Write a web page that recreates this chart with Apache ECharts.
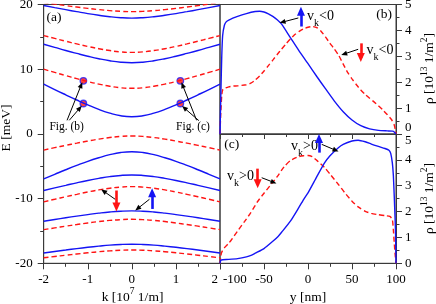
<!DOCTYPE html>
<html><head><meta charset="utf-8">
<script src="https://cdn.jsdelivr.net/npm/echarts@6/dist/echarts.min.js"></script>
<style>html,body{margin:0;padding:0;background:#fff}#c{width:436px;height:304px}</style>
</head><body><div id="c"></div>
<script>
// ---------- Panel (a): bands E(k) ----------
const kGrid = [-2,-1.75,-1.5,-1.25,-1,-0.75,-0.5,-0.25,0,0.25,0.5,0.75,1,1.25,1.5,1.75,2];
const aBlue1 = [19.85,19.52,19.20,18.89,18.59,18.33,18.11,17.96,17.9,17.96,18.11,18.33,18.59,18.89,19.20,19.52,19.85];
const aRed1  = [20.3,20.06,19.83,19.61,19.40,19.21,19.05,18.94,18.9,18.94,19.05,19.21,19.40,19.61,19.83,20.06,20.3];
const aRed2  = [15.2,14.76,14.33,13.91,13.52,13.17,12.88,12.67,12.6,12.67,12.88,13.17,13.52,13.91,14.33,14.76,15.2];
const aBlue2 = [13.85,13.37,12.89,12.44,12.01,11.62,11.30,11.08,11.0,11.08,11.30,11.62,12.01,12.44,12.89,13.37,13.85];
const aRed3  = [10.0,9.50,9.01,8.54,8.10,7.70,7.36,7.13,7.05,7.13,7.36,7.70,8.10,8.54,9.01,9.50,10.0];
const aBlue3 = [7.71,6.86,6.04,5.24,4.48,3.79,3.21,2.80,2.65,2.80,3.21,3.79,4.48,5.24,6.04,6.86,7.71];
const aRed4  = [-2.5,-2.13,-1.77,-1.43,-1.10,-0.81,-0.56,-0.39,-0.33,-0.39,-0.56,-0.81,-1.10,-1.43,-1.77,-2.13,-2.5];
const aBlue4 = [-6.95,-6.24,-5.54,-4.87,-4.24,-3.69,-3.21,-2.87,-2.75,-2.87,-3.21,-3.69,-4.24,-4.87,-5.54,-6.24,-6.95];
const aBlue5 = [-8.75,-8.34,-7.95,-7.56,-7.20,-6.88,-6.60,-6.42,-6.35,-6.42,-6.60,-6.88,-7.20,-7.56,-7.95,-8.34,-8.75];
const aRed5  = [-10.5,-10.10,-9.71,-9.34,-8.98,-8.66,-8.40,-8.22,-8.15,-8.22,-8.40,-8.66,-8.98,-9.34,-9.71,-10.10,-10.5];
const aBlue6 = [-13.5,-13.23,-12.96,-12.71,-12.47,-12.25,-12.07,-11.95,-11.9,-11.95,-12.07,-12.25,-12.47,-12.71,-12.96,-13.23,-13.5];
const aRed6  = [-14.8,-14.53,-14.26,-14.01,-13.77,-13.55,-13.37,-13.25,-13.2,-13.25,-13.37,-13.55,-13.77,-14.01,-14.26,-14.53,-14.8];
const aBlue7 = [-18.4,-18.17,-17.95,-17.73,-17.53,-17.35,-17.19,-17.09,-17.05,-17.09,-17.19,-17.35,-17.53,-17.73,-17.95,-18.17,-18.4];
const aRed7  = [-19.15,-18.95,-18.75,-18.56,-18.38,-18.21,-18.08,-17.98,-17.95,-17.98,-18.08,-18.21,-18.38,-18.56,-18.75,-18.95,-19.15];
const dotK = [-1.1, 1.1];
const dotE = [4.7, 8.2];

// ---------- Panel (b): densities, y in nm ----------
const yBblue = [-100,-99.5,-99,-98,-97,-95,-93,-90,-80,-70,-60,-55,-50,-45,-40,-35,-30,-20,-10,0,10,20,30,40,50,60,70,80,90,96,98,100];
const rBblue = [0,0.8,1.6,3.0,3.8,4.2,4.33,4.40,4.54,4.65,4.73,4.74,4.71,4.64,4.54,4.41,4.24,3.72,3.20,2.72,2.22,1.74,1.27,0.86,0.54,0.32,0.20,0.14,0.12,0.11,0.08,0];
const yBred = [-100,-99.5,-99,-98,-97,-95,-90,-85,-80,-70,-65,-60,-55,-50,-45,-40,-35,-30,-25,-20,-15,-10,-5,0,5,10,15,20,25,30,35,40,45,50,55,60,65,70,75,80,85,90,95,98,99,100];
const rBred = [0,0.5,0.9,1.5,1.7,1.76,1.82,1.85,1.86,1.9,1.96,2.08,2.24,2.43,2.64,2.85,3.07,3.28,3.48,3.67,3.84,3.96,4.06,4.12,4.15,4.11,3.96,3.74,3.5,3.28,3.03,2.70,2.38,2.13,1.90,1.70,1.53,1.38,1.24,1.09,0.93,0.75,0.55,0.35,0.2,0];

// ---------- Panel (c) ----------
const yCblue = [-100,-99.5,-99,-97,-90,-80,-70,-64,-60,-50,-40,-34,-30,-20,-10,-4,0,8,10,19,25,34.5,40,50,57,65,72,80,87.5,92,94,95.8,97,98,99,99.6,100];
const rCblue = [0,0.08,0.12,0.14,0.15,0.18,0.25,0.32,0.39,0.57,0.85,1.04,1.20,1.63,2.18,2.52,2.72,3.22,3.35,3.89,4.16,4.47,4.60,4.73,4.76,4.70,4.61,4.52,4.44,4.37,4.25,3.89,3.4,2.6,1.7,1.0,0];
const yCred = [-100,-99,-98.5,-97,-95,-90,-87,-80,-72,-65,-57,-50,-42,-35,-27,-20,-11,-5,0,5,10,19,25,35,42,50,57,65,72,80,88,93,95.8,97,98,99,100];
const rCred = [0,0.28,0.39,0.50,0.60,0.78,0.91,1.25,1.62,1.96,2.40,2.71,3.05,3.35,3.74,3.97,4.12,4.16,4.17,4.12,3.98,3.70,3.45,3.03,2.72,2.40,2.18,2.01,1.93,1.88,1.84,1.81,1.70,1.3,0.8,0.35,0];

// tick labels
const kTicks = [-2,-1,0,1,2];
const eTicks = [-20,-10,0,10,20];
const yTicks = [-100,-50,0,50,100];
const rhoTicks = [0,1,2,3,4,5];

const FONT = '"Liberation Serif", "Times New Roman", serif';
const BLUE = '#1414f4', RED = '#ff1414', AX = '#3a3a3a';

function pairs(xs, ys){ return xs.map((x,i)=>[x, ys[i]]); }

const bandsA = [
  [aBlue1,'b'],[aRed1,'r'],[aRed2,'r'],[aBlue2,'b'],[aRed3,'r'],[aBlue3,'b'],
  [aRed4,'r'],[aBlue4,'b'],[aBlue5,'b'],[aRed5,'r'],[aBlue6,'b'],[aRed6,'r'],[aBlue7,'b'],[aRed7,'r']
];

function lineSeries(data, col, xi, smooth){
  return {type:'line', xAxisIndex:xi, yAxisIndex:xi, data, smooth: smooth, symbol:'none', silent:true,
    animation:false, clip:true,
    lineStyle:{color: col==='b'?BLUE:RED, width:1.4, type: col==='b'?'solid':[5,3]}};
}

function arrows(list){
  return {silent:true, animation:false, symbol:['none','triangle'],
    label:{show:false}, emphasis:{disabled:true},
    data: list.map(a => [
      {coord:a.f, symbolSize:a.s, lineStyle:{color:a.c, width:a.w, type:'solid'}},
      {coord:a.t, symbolSize:a.s}
    ])};
}

const series = [];
bandsA.forEach(b => series.push(lineSeries(pairs(kGrid, b[0]), b[1], 0, true)));

// arrows panel (a)
series[10].markLine = arrows([
  {f:[-0.35,-8.75], t:[-0.35,-11.3], c:RED, w:2.6, s:[8,9]},
  {f:[0.46,-11.6], t:[0.46,-9.1], c:BLUE, w:2.6, s:[8,9]},
  {f:[-0.38,-10.1], t:[-0.64,-8.85], c:'#000', w:1, s:[5,6]},
  {f:[0.40,-10.1], t:[0.13,-11.55], c:'#000', w:1, s:[5,6]},
  {f:[-1.47,2.1], t:[-1.15,7.55], c:'#000', w:1, s:[5,6]},
  {f:[-1.42,2.1], t:[-1.18,4.0], c:'#000', w:1, s:[5,6]},
  {f:[1.47,2.1], t:[1.15,7.55], c:'#000', w:1, s:[5,6]},
  {f:[1.52,2.05], t:[1.19,4.0], c:'#000', w:1, s:[5,6]}
]);

const dots = [];
dotK.forEach(k => dotE.forEach(e => dots.push([k, e])));
series.push({type:'scatter', xAxisIndex:0, yAxisIndex:0, data:dots, symbolSize:6.5, silent:true, animation:false,
  itemStyle:{color:'#ff1010', borderColor:'#2020ff', borderWidth:1.3}});

const sBblue = lineSeries(pairs(yBblue, rBblue), 'b', 1, 0.2);
const sBred = lineSeries(pairs(yBred, rBred), 'r', 1, 0.2);
sBblue.markLine = arrows([
  {f:[-8,4.15], t:[-8,4.74], c:BLUE, w:2.6, s:[8,9]},
  {f:[60,3.5], t:[60,2.95], c:RED, w:2.6, s:[8,9]},
  {f:[-11,4.48], t:[-29,4.32], c:'#000', w:1, s:[5,6]},
  {f:[57,3.27], t:[41,3.09], c:'#000', w:1, s:[5,6]}
]);
const sCblue = lineSeries(pairs(yCblue, rCblue), 'b', 2, 0.2);
const sCred = lineSeries(pairs(yCred, rCred), 'r', 2, 0.2);
sCblue.markLine = arrows([
  {f:[12.5,4.28], t:[12.5,4.83], c:BLUE, w:2.6, s:[8,9]},
  {f:[-57.2,3.66], t:[-57.2,3.08], c:RED, w:2.6, s:[8,9]},
  {f:[15.6,4.6], t:[31.5,4.37], c:'#000', w:1, s:[5,6]},
  {f:[-52.6,3.31], t:[-39,3.13], c:'#000', w:1, s:[5,6]}
]);
series.push(sBred, sBblue, sCred, sCblue);

// ---------- text helpers ----------
const mctx = document.createElement('canvas').getContext('2d');
function tw(t, s){ mctx.font = s + 'px ' + FONT; return mctx.measureText(t).width; }
function runGroup(parts, x, y, rot, anchor){
  const total = parts.reduce((a,p)=>a+tw(p[0],p[1]),0);
  let cx = anchor==='left' ? 0 : -total/2;
  const children = parts.map(p => {
    const el = {type:'text', x:cx, y:p[2], silent:true,
      style:{text:p[0], font:p[1]+'px '+FONT, fill:'#000', align:'left', verticalAlign:'middle',
             textAlign:'left', textVerticalAlign:'middle'}};
    cx += tw(p[0],p[1]);
    return el;
  });
  return {type:'group', x, y, rotation:rot||0, silent:true, children};
}
function vk(x, y, sign){
  return runGroup([['v',14,0],['k',10,7],[sign+'0',14,0]], x, y, 0, 'left');
}

const graphics = [
  runGroup([['(a)',13.5,0]], 54, 17.5),
  runGroup([['(b)',13.5,0]], 384, 14),
  runGroup([['(c)',13.5,0]], 231.7, 144),
  runGroup([['Fig. (b)',11.5,0]], 66.7, 126.7),
  runGroup([['Fig. (c)',11.5,0]], 193, 126.7),
  vk(307, 16.5, '<'),
  vk(366.5, 50, '<'),
  vk(291, 146.5, '>'),
  vk(227, 176.5, '>'),
  runGroup([['E [meV]',13.5,0]], 6.5, 128, Math.PI/2),
  runGroup([['k [10',13.5,0],['7',9.5,-5.5],[' 1/m]',13.5,0]], 132.5, 297),
  runGroup([['y [nm]',13.5,0]], 308, 297),
  runGroup([['ρ [10',13.5,0],['13',9.5,-5.5],[' 1/m',13.5,0],['2',9.5,-5.5],[']',13.5,0]], 429.5, 68.5, Math.PI/2),
  runGroup([['ρ [10',13.5,0],['13',9.5,-5.5],[' 1/m',13.5,0],['2',9.5,-5.5],[']',13.5,0]], 429.5, 198.5, Math.PI/2)
];

// ---------- axes ----------
const lbl = {fontFamily:FONT, fontSize:13, color:'#000', showMinLabel:true, showMaxLabel:true};
function axBase(extra){
  return Object.assign({
    type:'value', splitLine:{show:false}, minorSplitLine:{show:false},
    axisLine:{show:true, onZero:false, lineStyle:{color:AX, width:1}},
    axisTick:{show:true, inside:false, length:6, lineStyle:{color:AX, width:1}},
    minorTick:{show:true, splitNumber:2, length:3.5, lineStyle:{color:AX, width:1}}
  }, extra);
}

const option = {
  backgroundColor:'#fff',
  animation:false,
  grid:[
    {left:43.7, top:4.5, width:176.3, height:258.8, show:true, borderColor:AX, borderWidth:1, outerBoundsMode:'none', containLabel:false},
    {left:220, top:4.5, width:176, height:129.5, show:true, borderColor:AX, borderWidth:1, outerBoundsMode:'none', containLabel:false},
    {left:220, top:134, width:176, height:129.3, show:true, borderColor:AX, borderWidth:1, outerBoundsMode:'none', containLabel:false}
  ],
  xAxis:[
    axBase({gridIndex:0, position:'bottom', min:kTicks[0], max:kTicks[kTicks.length-1], interval:1,
      axisLabel:Object.assign({}, lbl, {margin:10, alignMaxLabel:'right',
        formatter: v => v === kTicks[kTicks.length-1] ? '{e|' + v + '}' : String(v),
        rich:{e:{fontFamily:FONT, fontSize:13, color:'#000', padding:[0,2,0,0]}}})}),
    axBase({gridIndex:1, position:'bottom', min:yTicks[0], max:yTicks[yTicks.length-1], interval:50,
      axisTick:{show:true, inside:false, length:5, lineStyle:{color:AX}},
      minorTick:{show:true, splitNumber:2, length:3, lineStyle:{color:AX}},
      axisLabel:{show:false}}),
    axBase({gridIndex:2, position:'bottom', min:yTicks[0], max:yTicks[yTicks.length-1], interval:50,
      axisLabel:Object.assign({}, lbl, {margin:10, alignMinLabel:'left',
        formatter: v => v === yTicks[0] ? '{s|' + v + '}' : String(v),
        rich:{s:{fontFamily:FONT, fontSize:13, color:'#000', padding:[0,0,0,3]}}})})
  ],
  yAxis:[
    axBase({gridIndex:0, position:'left', min:eTicks[0], max:eTicks[eTicks.length-1], interval:10,
      axisLabel:Object.assign({}, lbl, {margin:11})}),
    axBase({gridIndex:1, position:'right', min:rhoTicks[0], max:rhoTicks[rhoTicks.length-1], interval:1,
      axisLabel:Object.assign({}, lbl, {margin:9, verticalAlignMinLabel:'bottom'})}),
    axBase({gridIndex:2, position:'right', min:rhoTicks[0], max:rhoTicks[rhoTicks.length-1], interval:1,
      axisLabel:Object.assign({}, lbl, {margin:9, verticalAlignMaxLabel:'top'})})
  ],
  series,
  graphic: graphics
};

const chart = echarts.init(document.getElementById('c'), null, {renderer:'canvas'});
chart.setOption(option);
</script>
</body></html>
